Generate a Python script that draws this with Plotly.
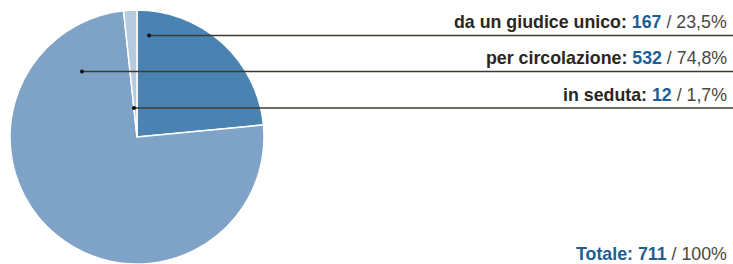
import plotly.graph_objects as go

# ---- data ----
labels = ["da un giudice unico", "per circolazione", "in seduta"]
values = [167, 532, 12]
percents = ["23,5%", "74,8%", "1,7%"]
total_label = "Totale"
total_value = 711
total_percent = "100%"

# ---- style / layout constants ----
W, H = 733, 264
colors = ["#4a83b1", "#7fa3c6", "#b6cae0"]
num_blue = "#1d5e94"
txt_dark = "#2a2620"
txt_grey = "#4a4744"
line_col = "#3d3a30"
font_fam = "Liberation Sans, Arial, Helvetica, sans-serif"
font_size = 17.8

# pie placement (pixels)
pie_cx, pie_cy, pie_r = 137, 137.5, 127.5
# label rows: (text center y, leader line y, dot x)
rows_y_text = [22.5, 58.5, 95]
rows_y_line = [35.5, 71.5, 108]
dots_x = [149, 82, 134]

def px(x):
    return x / W

def py(y):
    return 1 - y / H

fig = go.Figure()
fig.add_trace(go.Pie(
    labels=labels, values=values, sort=False, direction="clockwise", rotation=0,
    marker=dict(colors=colors, line=dict(color="white", width=1.5)),
    textinfo="none", hoverinfo="label+value+percent",
    domain=dict(x=[px(pie_cx - pie_r), px(pie_cx + pie_r)],
                y=[max(0, py(pie_cy + pie_r)), py(pie_cy - pie_r)]),
    showlegend=False,
))

shapes = []
annotations = []
for i, lab in enumerate(labels):
    yl = py(rows_y_line[i])
    shapes.append(dict(type="line", xref="paper", yref="paper",
                       x0=px(dots_x[i]), x1=1.0, y0=yl, y1=yl,
                       line=dict(color=line_col, width=1.4)))
    shapes.append(dict(type="circle", xref="paper", yref="paper",
                       x0=px(dots_x[i] - 2), x1=px(dots_x[i] + 2),
                       y0=py(rows_y_line[i] + 2), y1=py(rows_y_line[i] - 2),
                       fillcolor="#111111", line=dict(width=0)))
    annotations.append(dict(
        xref="paper", yref="paper", x=px(729), y=py(rows_y_text[i]),
        xanchor="right", yanchor="middle", showarrow=False,
        text=(f"<b><span style='color:{txt_dark}'>{lab}: </span>"
              f"<span style='color:{num_blue}'>{values[i]}</span></b>"
              f"<span style='color:{txt_grey}'> / {percents[i]}</span>"),
        font=dict(family=font_fam, size=font_size, color=txt_dark),
    ))

annotations.append(dict(
    xref="paper", yref="paper", x=px(729), y=py(254),
    xanchor="right", yanchor="middle", showarrow=False,
    text=(f"<b><span style='color:{num_blue}'>{total_label}: {total_value}</span></b>"
          f"<span style='color:{txt_grey}'> / {total_percent}</span>"),
    font=dict(family=font_fam, size=font_size, color=txt_dark),
))

fig.update_layout(
    width=W, height=H, margin=dict(l=0, r=0, t=0, b=0),
    paper_bgcolor="white", plot_bgcolor="white",
    shapes=shapes, annotations=annotations,
)

fig.write_html("out.html", config={"displayModeBar": False},
               post_script="document.body.style.margin='0';document.body.style.overflow='hidden';")
